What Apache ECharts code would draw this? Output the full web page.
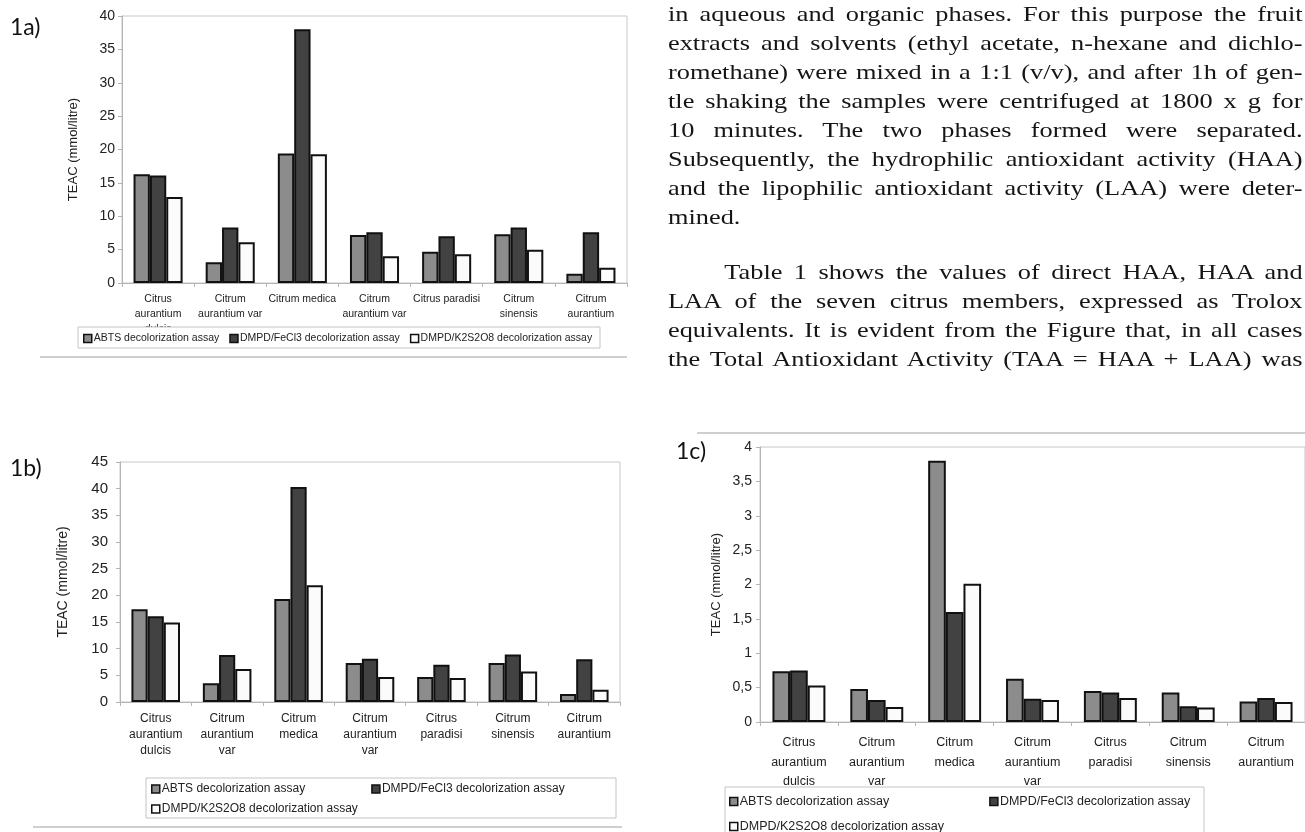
<!DOCTYPE html>
<html>
<head>
<meta charset="utf-8">
<title>TEAC of citrus extracts</title>
<script src="https://cdn.jsdelivr.net/npm/echarts@6/dist/echarts.min.js"></script>
<style>
body { margin: 0; background: #fff; }
#chart { position: absolute; left: 0; top: 0; width: 1305px; height: 832px; }
/* the scanned page text is set wide, so stretch it a bit */
#text {
  position: absolute; left: 668px; top: 0; width: 518px;
  transform: scaleX(1.225); transform-origin: 0 0;
  font-family: 'Liberation Serif', serif; font-size: 21.5px; line-height: 29px; color: #151515;
}
#text div { text-align: justify; text-align-last: justify; }
#text .last { text-align-last: left; }
#text .indent { text-indent: 46px; margin-top: 26px; }
</style>
</head>
<body>
<div id="chart"></div>
<div id="text">
  <div>in aqueous and organic phases. For this purpose the fruit</div>
  <div>extracts and solvents (ethyl acetate, n-hexane and dichlo-</div>
  <div>romethane) were mixed in a 1:1 (v/v), and after 1h of gen-</div>
  <div>tle shaking the samples were centrifuged at 1800 x g for</div>
  <div>10 minutes. The two phases formed were separated.</div>
  <div>Subsequently, the hydrophilic antioxidant activity (HAA)</div>
  <div>and the lipophilic antioxidant activity (LAA) were deter-</div>
  <div class="last">mined.</div>
  <div class="indent">Table 1 shows the values of direct HAA, HAA and</div>
  <div>LAA of the seven citrus members, expressed as Trolox</div>
  <div>equivalents. It is evident from the Figure that, in all cases</div>
  <div>the Total Antioxidant Activity (TAA = HAA + LAA) was</div>
</div>
<script>
// categories and the way each panel breaks them over lines
const categories = ['Citrus aurantium dulcis', 'Citrum aurantium var', 'Citrum medica',
  'Citrum aurantium var', 'Citrus paradisi', 'Citrum sinensis', 'Citrum aurantium'];
const labelsA = ['Citrus\naurantium\ndulcis', 'Citrum\naurantium var', 'Citrum medica',
  'Citrum\naurantium var', 'Citrus paradisi', 'Citrum\nsinensis', 'Citrum\naurantium'];
const labelsBC = ['Citrus\naurantium\ndulcis', 'Citrum\naurantium\nvar', 'Citrum\nmedica',
  'Citrum\naurantium\nvar', 'Citrus\nparadisi', 'Citrum\nsinensis', 'Citrum\naurantium'];
const assays = ['ABTS decolorization assay', 'DMPD/FeCl3 decolorization assay', 'DMPD/K2S2O8 decolorization assay'];

// panel 1a
const abtsA = [16.3, 3.1, 19.4, 7.2, 4.7, 7.3, 1.4];
const fecl3A = [16.1, 8.3, 38.0, 7.6, 7.0, 8.3, 7.6];
const k2s2o8A = [12.9, 6.1, 19.3, 4.0, 4.3, 5.0, 2.3];
// panel 1b
const abtsB = [17.4, 3.5, 19.3, 7.3, 4.7, 7.3, 1.5];
const fecl3B = [16.1, 8.8, 40.3, 8.1, 7.0, 8.9, 8.0];
const k2s2o8B = [14.9, 6.2, 21.9, 4.7, 4.5, 5.7, 2.3];
// panel 1c
const abtsC = [0.74, 0.48, 3.80, 0.63, 0.45, 0.43, 0.30];
const fecl3C = [0.75, 0.32, 1.60, 0.34, 0.43, 0.23, 0.35];
const k2s2o8C = [0.53, 0.22, 2.01, 0.32, 0.35, 0.21, 0.29];

const yMax = [40, 45, 4];
const yStep = [5, 5, 0.5];

const fills = ['#8c8c8c', '#424242', '#fbfbfb'];
const font = 'Liberation Sans';
const axisGrey = '#b4b4b4';

const xAxisFor = (gi, labels, size, lh, margin) => ({
  type: 'category', gridIndex: gi, data: labels,
  axisLine: { lineStyle: { color: axisGrey } },
  axisTick: { show: true, length: 4, lineStyle: { color: axisGrey } },
  axisLabel: { interval: 0, fontFamily: font, fontSize: size, lineHeight: lh, color: '#222', margin: margin }
});

const yAxisFor = (gi, nameGap, size, margin, fmt) => ({
  type: 'value', gridIndex: gi, min: 0, max: yMax[gi], interval: yStep[gi],
  name: 'TEAC (mmol/litre)', nameLocation: 'middle', nameRotate: 90, nameGap: nameGap,
  nameTextStyle: { fontFamily: font, fontSize: size, color: '#222' },
  axisLine: { show: true, lineStyle: { color: axisGrey } },
  axisTick: { show: true, length: 4, lineStyle: { color: axisGrey } },
  splitLine: { show: false },
  axisLabel: { fontFamily: font, fontSize: size + 1, color: '#222', margin: margin, formatter: fmt }
});

const barsFor = (gi, sets) => sets.map((d, i) => ({
  type: 'bar', name: assays[i], xAxisIndex: gi, yAxisIndex: gi, data: d,
  barGap: '0%', barCategoryGap: '32%',
  itemStyle: { color: fills[i], borderColor: '#111', borderWidth: 2 }
}));

const legendFor = (names, left, top, size, gap) => ({
  data: names, left: left, top: top, orient: 'horizontal', itemGap: gap,
  icon: 'rect', itemWidth: 8, itemHeight: 8, padding: 0,
  itemStyle: { borderColor: '#111', borderWidth: 1.5 },
  textStyle: { fontFamily: font, fontSize: size, color: '#222', padding: [0, 0, 0, -3] }
});

const box = (x, y, w, h) => ({
  type: 'rect', z: 3, shape: { x: x, y: y, width: w, height: h },
  style: { fill: '#fff', stroke: '#c4c4c4', lineWidth: 1 }
});
const rule = (x1, y, x2) => ({
  type: 'line', z: 3, shape: { x1: x1, y1: y, x2: x2, y2: y },
  style: { stroke: '#cfcfcf', lineWidth: 2 }
});
const tag = (t, x, y) => ({
  type: 'text', z: 3, left: x, top: y,
  style: { text: t, fontFamily: 'Lato', fontSize: 23, fill: '#111' }
});

const chart = echarts.init(document.getElementById('chart'));
chart.setOption({
  animation: false,
  grid: [
    { left: 122, top: 16, width: 505, height: 267, show: true, borderColor: '#c8c8c8', borderWidth: 1 },
    { left: 120, top: 462, width: 500, height: 240, show: true, borderColor: '#c8c8c8', borderWidth: 1 },
    { left: 760, top: 447, width: 545, height: 275, show: true, borderColor: '#c8c8c8', borderWidth: 1 }
  ],
  xAxis: [
    xAxisFor(0, labelsA, 10.5, 15, 9),
    xAxisFor(1, labelsBC, 12, 16, 9),
    xAxisFor(2, labelsBC, 12.5, 19.5, 11)
  ],
  yAxis: [
    yAxisFor(0, 42, 13, 7),
    yAxisFor(1, 50, 14, 12),
    yAxisFor(2, 37, 13, 8, v => String(v).replace('.', ','))
  ],
  legend: [
    legendFor(assays, 83, 333, 10.5, 10),
    legendFor(assays.slice(0, 2), 151, 783, 12, 66),
    legendFor(assays.slice(2), 151, 803, 12, 10),
    legendFor(assays.slice(0, 2), 729, 795, 12.5, 100),
    legendFor(assays.slice(2), 729, 820, 12.5, 10)
  ],
  graphic: [
    box(78, 327, 522, 21),
    box(146, 778, 470, 40),
    box(725, 787, 479, 60),
    rule(40, 357, 627),
    rule(33, 827, 622),
    rule(697, 433, 1305),
    tag('1a)', 10, 16),
    tag('1b)', 10, 457),
    tag('1c)', 676, 440)
  ],
  series: [
    ...barsFor(0, [abtsA, fecl3A, k2s2o8A]),
    ...barsFor(1, [abtsB, fecl3B, k2s2o8B]),
    ...barsFor(2, [abtsC, fecl3C, k2s2o8C])
  ]
});
</script>
</body>
</html>
